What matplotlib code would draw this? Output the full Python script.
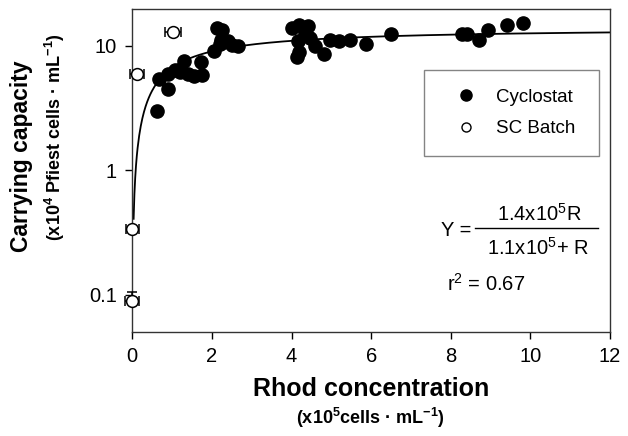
"""
Carrying capacity vs Rhod concentration
=======================================
Cyclostat points + SC batch points (with error bars) on a log y axis,
with the fitted saturating curve Y = 1.4x10^5 R / (1.1x10^5 + R).
"""

import numpy as np
import matplotlib
matplotlib.use("Agg")
import matplotlib.pyplot as plt
from matplotlib.lines import Line2D

# ---------------------------------------------------------------------------
# Data (x in 10^5 cells/mL, y in 10^4 cells/mL)
# ---------------------------------------------------------------------------
cyclo_x = [0.63, 0.90, 0.68, 0.89, 1.07, 1.29, 1.20, 1.41, 1.54, 1.74, 1.73,
           2.06, 2.12, 2.26, 2.24, 2.41, 2.50, 2.66, 2.20,
           4.00, 4.20, 4.42, 4.17, 4.13, 4.19, 4.46, 4.59, 4.82, 4.97, 5.18,
           5.47, 5.86, 6.49, 4.35,
           8.28, 8.40, 8.71, 8.93, 9.42, 9.82]
cyclo_y = [3.0, 4.5, 5.45, 5.9, 6.4, 7.6, 6.2, 5.95, 5.7, 5.8, 7.4,
           9.15, 13.9, 13.5, 11.2, 10.9, 10.2, 10.0, 10.4,
           13.9, 14.8, 14.5, 10.9, 8.2, 9.0, 11.6, 10.0, 8.65, 11.2, 11.0,
           11.2, 10.4, 12.5, 12.7,
           12.5, 12.5, 11.2, 13.3, 14.8, 15.3]

batch_x = [0.0, 0.0, 0.12, 1.02]
batch_y = [0.089, 0.34, 5.9, 12.9]
batch_xerr = [0.18, 0.17, 0.17, 0.20]
batch_yerr_lo = [0.004, 0.0, 0.0, 0.0]
batch_yerr_hi = [0.016, 0.0, 0.0, 0.0]

# fitted Michaelis-Menten type curve (parameters from the figure)
FIT_VMAX = 1.4e5
FIT_K = 1.1e5

x_ticks = [0, 2, 4, 6, 8, 10, 12]
y_ticks = [0.1, 1, 10]
y_tick_labels = ["0.1", "1", "10"]

W, H = 628, 436

plt.rcParams["font.family"] = ["Liberation Sans", "DejaVu Sans"]
plt.rcParams["mathtext.fontset"] = "custom"
plt.rcParams["mathtext.rm"] = "Liberation Sans"
plt.rcParams["mathtext.bf"] = "Liberation Sans:bold"
plt.rcParams["mathtext.it"] = "Liberation Sans:italic"


def fig_xy(px, py):
    """pixel position (from top-left) -> figure fraction"""
    return px / W, 1 - py / H


def main():
    fig = plt.figure(figsize=(W / 100, H / 100), dpi=100)
    l, b = fig_xy(132.3, 331.7)
    r, t = fig_xy(610, 9.5)
    ax = fig.add_axes([l, b, r - l, t - b])

    # fit curve
    xs = np.linspace(0.033, 12, 600)
    R = xs * 1e5
    ys = FIT_VMAX * R / (FIT_K + R) / 1e4
    ax.plot(xs, ys, color="black", lw=1.3, zorder=2)

    ax.plot(cyclo_x, cyclo_y, "o", color="black", ms=9.5, zorder=3)
    ax.errorbar(batch_x, batch_y, xerr=batch_xerr,
                yerr=[batch_yerr_lo, batch_yerr_hi],
                fmt="o", mfc="white", mec="black", ecolor="black",
                ms=8.5, mew=1.1, elinewidth=1.1, capsize=3.5, capthick=1.1,
                zorder=4, clip_on=False)

    ax.set_yscale("log")
    ax.set_xlim(0, 12)
    ax.set_ylim(0.0505, 19.6)
    ax.set_xticks(x_ticks)
    ax.set_xticklabels([str(v) for v in x_ticks])
    ax.set_yticks(y_ticks)
    ax.set_yticklabels(y_tick_labels)
    ax.yaxis.set_minor_locator(matplotlib.ticker.NullLocator())
    ax.tick_params(direction="out", length=5, width=1, labelsize=14.5,
                   top=False, right=False)
    ax.tick_params(axis="x", pad=6)
    ax.tick_params(axis="y", pad=6)
    for sp in ax.spines.values():
        sp.set_linewidth(1)
        sp.set_color("#333333")

    # legend
    handles = [
        Line2D([], [], ls="none", marker="o", color="black", ms=8),
        Line2D([], [], ls="none", marker="o", mfc="white", mec="black",
               mew=1, ms=6.5),
    ]
    leg = ax.legend(handles, ["Cyclostat", "SC Batch"],
                    loc="upper left", bbox_to_anchor=(0.611, 0.812, 0.366, 0.0),
                    mode="expand", fontsize=13.5, frameon=True, fancybox=False,
                    borderpad=1.0, labelspacing=0.75, handlelength=2.5,
                    handletextpad=0.35, borderaxespad=0)
    leg.get_frame().set_edgecolor("#666666")
    leg.get_frame().set_linewidth(1)

    # equation
    fig.text(*fig_xy(456, 230), "Y =", fontsize=14.5, ha="center", va="center")
    fig.text(*fig_xy(539, 214), r"1.4x10$^{5}$R", fontsize=14.5,
             ha="center", va="center")
    fig.text(*fig_xy(538, 248), r"1.1x10$^{5}$+ R", fontsize=14.5,
             ha="center", va="center")
    x0, y0 = fig_xy(475, 228)
    x1, _ = fig_xy(598, 228)
    fig.add_artist(Line2D([x0, x1], [y0, y0], color="black", lw=1))
    fig.text(*fig_xy(447, 284), r"r$^{2}$ = 0.67", fontsize=14.5,
             ha="left", va="center")

    # axis labels
    fig.text(*fig_xy(371, 389), "Rhod concentration", fontsize=18,
             fontweight="bold", ha="center", va="center")
    fig.text(*fig_xy(370, 418), r"(x10$^{\mathbf{5}}$cells · mL$^{\mathbf{-1}}$)",
             fontsize=13, fontweight="bold", ha="center", va="center")
    fig.text(*fig_xy(22, 156), "Carrying capacity", fontsize=16.5,
             fontweight="bold", ha="center", va="center", rotation=90)
    fig.text(*fig_xy(55, 137),
             r"(x10$^{\mathbf{4}}$ Pfiest cells · mL$^{\mathbf{-1}}$)",
             fontsize=13, fontweight="bold", ha="center", va="center",
             rotation=90)

    fig.savefig("out.png", dpi=100)
    plt.close(fig)


if __name__ == "__main__":
    main()
